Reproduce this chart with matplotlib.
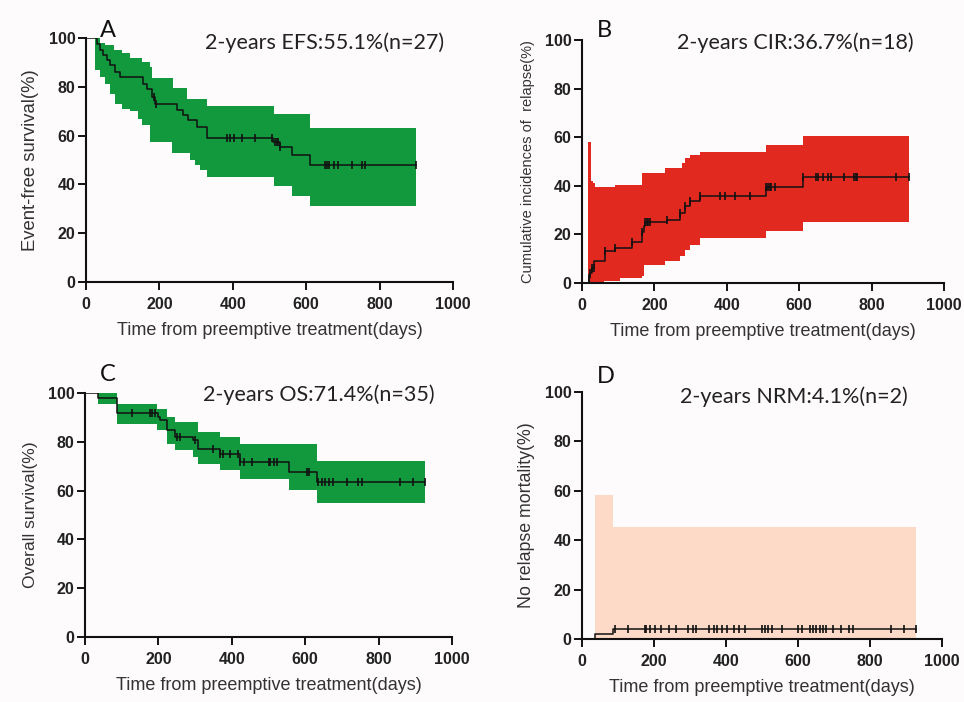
import numpy as np
import matplotlib
matplotlib.use("Agg")
import matplotlib.pyplot as plt

# ---------------- data (days, percent) ----------------
# Panel A: event-free survival
A_time = [0, 30, 38, 47, 56, 65, 79, 93, 156, 165, 179, 188, 247, 265, 279, 302, 329, 510, 529, 560, 610, 899]
A_val = [100, 97.5, 95, 93, 91, 89, 86, 84, 81, 79, 76, 73, 70.5, 68.5, 66.5, 63.5, 59, 57.5, 55.5, 52, 48, 48]
A_up_time = [25, 38, 52, 75, 97, 120, 152, 175, 179, 238, 275, 329, 511, 611, 899]
A_up_val = [100, 98, 97, 95, 94, 92, 90, 88, 83.5, 79.5, 75, 72, 69, 63, 63]
A_lo_time = [25, 38, 52, 65, 79, 97, 120, 143, 152, 175, 234, 284, 297, 311, 329, 511, 561, 611, 899]
A_lo_val = [87, 84, 81, 77, 73, 71, 70, 67, 64.5, 57.5, 53, 50, 48, 46, 43, 39.5, 35.3, 31, 31]
A_cens = [185, 190, 384, 393, 402, 425, 461, 506, 515, 520, 524, 529, 652, 656, 661, 675, 688, 724, 752, 761, 899]

# Panel B: cumulative incidence of relapse
B_time = [0, 18, 23, 28, 34, 64, 92, 138, 165, 170, 174, 234, 271, 284, 298, 326, 509, 610, 902]
B_val = [0, 2, 4, 6, 9, 13, 14.4, 17, 21, 23.3, 25, 26, 29, 31.5, 33.6, 36, 39.7, 43.6, 43.6]
B_up_time = [16, 26, 30, 36, 92, 165, 229, 275, 284, 298, 326, 509, 610, 902]
B_up_val = [58, 42, 41, 39.7, 40.4, 45.2, 47.3, 49.3, 51.4, 52.7, 53.8, 56.6, 60.3, 60.3]
B_lo_time = [16, 60, 105, 165, 170, 229, 271, 284, 298, 326, 509, 610, 902]
B_lo_val = [0, 1, 2, 2.7, 7.5, 8.9, 11, 13.7, 15.8, 18.5, 21.2, 25.3, 25.3]
B_cens = [18, 23, 28, 32, 64, 92, 138, 165, 174, 179, 183, 188, 234, 271, 284, 298, 326, 381, 394,
          422, 463, 509, 514, 518, 523, 532, 610, 647, 651, 665, 679, 688, 725, 752, 757, 761, 867, 902]

# Panel C: overall survival
C_time = [0, 36, 86, 200, 205, 223, 245, 295, 309, 368, 423, 555, 632, 927]
C_val = [100, 98, 92, 90.2, 88.8, 84.7, 82, 80.6, 77.2, 75.2, 71.8, 67.7, 63.6, 63.6]
C_up_time = [36, 86, 195, 223, 245, 309, 368, 423, 632, 927]
C_up_val = [100, 95.6, 93.6, 90.2, 88.1, 84, 82, 79.3, 72, 72]
C_lo_time = [36, 86, 195, 223, 245, 295, 309, 368, 423, 555, 632, 927]
C_lo_val = [95.6, 87.4, 84.7, 79.3, 76.5, 73.8, 71.1, 68.4, 64.7, 60.4, 55, 55]
C_cens = [127, 177, 182, 191, 250, 259, 300, 350, 368, 377, 395, 418, 423, 432, 455, 500, 505, 514,
          523, 605, 609, 636, 645, 655, 664, 677, 714, 745, 755, 859, 895, 927]

# Panel D: non-relapse mortality
D_time = [0, 37, 87, 927]
D_val = [0, 2.0, 4.1, 4.1]
D_up_time = [37, 87, 927]
D_up_val = [58.3, 45.5, 45.5]
D_lo_time = [37, 927]
D_lo_val = [0, 0]
D_cens = [92, 128, 174, 179, 188, 202, 220, 243, 261, 294, 307, 317, 353, 367, 376, 390, 404, 422,
          436, 454, 500, 509, 518, 528, 555, 601, 610, 633, 642, 651, 661, 670, 679, 697, 720, 743,
          752, 858, 894, 927]

titles = ["2-years EFS:55.1%(n=27)", "2-years CIR:36.7%(n=18)",
          "2-years OS:71.4%(n=35)", "2-years NRM:4.1%(n=2)"]
letters = ["A", "B", "C", "D"]
ylabels = ["Event-free survival(%)", "Cumulative incidences of  relapse(%)",
           "Overall survival(%)", "No relapse mortality(%)"]
xlabel = "Time from preemptive treatment(days)"
xticks = [0, 200, 400, 600, 800, 1000]
yticks = [0, 20, 40, 60, 80, 100]

# ---------------- styling / layout ----------------
W, H = 964, 702
BG = "#fdfbfb"
GREEN = "#13993d"
RED = "#e2291f"
PEACH = "#fdd9c7"


def rect(l, r, t, b):
    return [l / W, 1 - b / H, (r - l) / W, (b - t) / H]


def stepval(times, vals, t):
    times = np.asarray(times, float)
    vals = np.asarray(vals, float)
    idx = np.searchsorted(times, np.asarray(t, float), side="right") - 1
    idx = np.clip(idx, 0, len(vals) - 1)
    return vals[idx]


fig = plt.figure(figsize=(W / 100, H / 100), dpi=100, facecolor=BG)

panels = [
    dict(rect=rect(86, 453, 38, 282), t=A_time, v=A_val, ut=A_up_time, uv=A_up_val,
         lt=A_lo_time, lv=A_lo_val, c=A_cens, col=GREEN, ylfs=13.3,
         letter=(100, 37), title=(205, 43)),
    dict(rect=rect(582, 944, 40, 283), t=B_time, v=B_val, ut=B_up_time, uv=B_up_val,
         lt=B_lo_time, lv=B_lo_val, c=B_cens, col=RED, ylfs=10.5,
         letter=(597, 37), title=(677, 43)),
    dict(rect=rect(85, 452, 393, 637), t=C_time, v=C_val, ut=C_up_time, uv=C_up_val,
         lt=C_lo_time, lv=C_lo_val, c=C_cens, col=GREEN, ylfs=12.6,
         letter=(100, 381), title=(203, 395)),
    dict(rect=rect(582, 942, 392, 639), t=D_time, v=D_val, ut=D_up_time, uv=D_up_val,
         lt=D_lo_time, lv=D_lo_val, c=D_cens, col=PEACH, ylfs=12.8,
         letter=(597, 383), title=(680, 397)),
]

for i, p in enumerate(panels):
    ax = fig.add_axes(p["rect"])
    ax.set_facecolor(BG)
    grid = np.unique(np.concatenate([p["ut"], p["lt"]]))
    up = stepval(p["ut"], p["uv"], grid)
    lo = stepval(p["lt"], p["lv"], grid)
    ax.fill_between(grid, lo, up, step="post", color=p["col"], lw=0, zorder=1)
    ax.step(p["t"], p["v"], where="post", color="#111111", lw=1.1, zorder=3)
    cy = stepval(p["t"], p["v"], p["c"])
    ax.plot(p["c"], cy, ls="none", marker="|", ms=6, mew=1.2, color="#111111", zorder=4)

    ax.set_xlim(0, 1000)
    ax.set_ylim(0, 100)
    ax.set_xticks(xticks)
    ax.set_yticks(yticks)
    for s in ["top", "right"]:
        ax.spines[s].set_visible(False)
    for s in ["left", "bottom"]:
        ax.spines[s].set_linewidth(1.5)
        ax.spines[s].set_color("#111111")
    ax.tick_params(direction="out", length=6, width=1.4, color="#111111",
                   labelsize=11.5, labelcolor="#222222")
    ax.tick_params(axis="x", pad=5)
    ax.tick_params(axis="y", pad=1.5)
    for lab in ax.get_xticklabels() + ax.get_yticklabels():
        lab.set_fontfamily("Liberation Sans")
        lab.set_fontweight("bold")
    ax.set_xlabel(xlabel, fontfamily="Liberation Sans", fontsize=13, color="#333333", labelpad=7)
    ax.set_ylabel(ylabels[i], fontfamily="Liberation Sans", fontsize=p["ylfs"], color="#333333",
                  labelpad=7)

    lx, ly = p["letter"]
    fig.text(lx / W, 1 - ly / H, letters[i], fontfamily="Lato", fontsize=17,
             ha="left", va="baseline", color="#111111")
    tx, ty = p["title"]
    fig.text(tx / W, 1 - ty / H, titles[i], fontfamily="Lato", fontsize=15.5,
             ha="left", va="center", color="#222222")

fig.savefig("out.png", dpi=100, facecolor=BG)
